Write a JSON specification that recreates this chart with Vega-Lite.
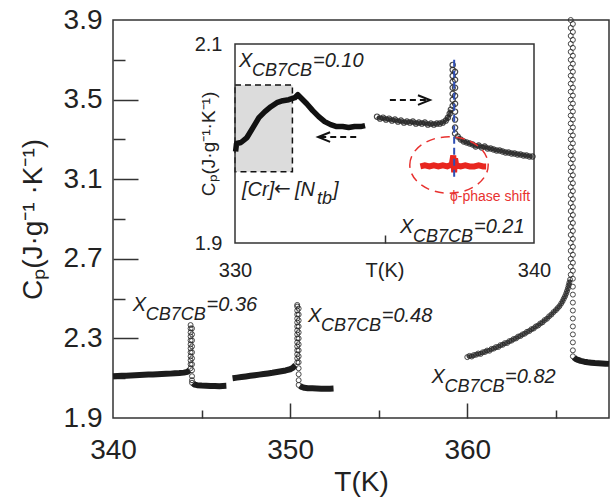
{
  "$schema": "https://vega.github.io/schema/vega-lite/v6.json",
  "width": 496,
  "height": 398,
  "autosize": {"type": "none"},
  "padding": {"left": 113, "top": 20, "right": 1, "bottom": 80},
  "background": "white",
  "config": {
    "font": "Liberation Sans",
    "view": {"stroke": "#333", "strokeWidth": 1.5},
    "axis": {"grid": false, "domain": false, "labelColor": "#222", "titleColor": "#222", "labelFont": "Liberation Sans", "titleFont": "Liberation Sans", "titleFontWeight": "normal", "tickColor": "#333", "tickWidth": 1.5, "labelFlush": false, "labelOverlap": false, "labelBound": false}
  },
  "datasets": {
    "mband": [
      {"s":"a36","T":340.0,"Cp":2.110},{"s":"a36","T":340.25,"Cp":2.111},{"s":"a36","T":340.5,"Cp":2.112},{"s":"a36","T":340.75,"Cp":2.112},{"s":"a36","T":341.0,"Cp":2.114},{"s":"a36","T":341.25,"Cp":2.115},{"s":"a36","T":341.5,"Cp":2.116},{"s":"a36","T":341.75,"Cp":2.117},{"s":"a36","T":342.0,"Cp":2.118},{"s":"a36","T":342.25,"Cp":2.119},{"s":"a36","T":342.5,"Cp":2.120},{"s":"a36","T":342.75,"Cp":2.121},{"s":"a36","T":343.0,"Cp":2.122},{"s":"a36","T":343.25,"Cp":2.123},{"s":"a36","T":343.5,"Cp":2.125},{"s":"a36","T":343.75,"Cp":2.126},{"s":"a36","T":344.0,"Cp":2.128},{"s":"a36","T":344.2,"Cp":2.132},{"s":"a36","T":344.32,"Cp":2.140},
      {"s":"b36","T":344.52,"Cp":2.075},{"s":"b36","T":344.6,"Cp":2.068},{"s":"b36","T":344.75,"Cp":2.065},{"s":"b36","T":345.0,"Cp":2.063},{"s":"b36","T":345.25,"Cp":2.062},{"s":"b36","T":345.5,"Cp":2.061},{"s":"b36","T":345.75,"Cp":2.061},{"s":"b36","T":346.0,"Cp":2.060},{"s":"b36","T":346.2,"Cp":2.061},{"s":"b36","T":346.4,"Cp":2.062},
      {"s":"a48","T":346.75,"Cp":2.100},{"s":"a48","T":347.0,"Cp":2.103},{"s":"a48","T":347.25,"Cp":2.106},{"s":"a48","T":347.5,"Cp":2.109},{"s":"a48","T":347.75,"Cp":2.112},{"s":"a48","T":348.0,"Cp":2.115},{"s":"a48","T":348.25,"Cp":2.118},{"s":"a48","T":348.5,"Cp":2.121},{"s":"a48","T":348.75,"Cp":2.124},{"s":"a48","T":349.0,"Cp":2.127},{"s":"a48","T":349.25,"Cp":2.131},{"s":"a48","T":349.5,"Cp":2.135},{"s":"a48","T":349.75,"Cp":2.139},{"s":"a48","T":350.0,"Cp":2.145},{"s":"a48","T":350.15,"Cp":2.152},{"s":"a48","T":350.3,"Cp":2.165},
      {"s":"b48","T":350.55,"Cp":2.062},{"s":"b48","T":350.65,"Cp":2.056},{"s":"b48","T":350.8,"Cp":2.052},{"s":"b48","T":351.0,"Cp":2.050},{"s":"b48","T":351.25,"Cp":2.049},{"s":"b48","T":351.5,"Cp":2.048},{"s":"b48","T":351.75,"Cp":2.047},{"s":"b48","T":352.0,"Cp":2.047},{"s":"b48","T":352.25,"Cp":2.047},{"s":"b48","T":352.45,"Cp":2.048},
      {"s":"t82","T":366.02,"Cp":2.205},{"s":"t82","T":366.1,"Cp":2.198},{"s":"t82","T":366.25,"Cp":2.192},{"s":"t82","T":366.4,"Cp":2.187},{"s":"t82","T":366.6,"Cp":2.183},{"s":"t82","T":366.8,"Cp":2.180},{"s":"t82","T":367.0,"Cp":2.178},{"s":"t82","T":367.2,"Cp":2.176},{"s":"t82","T":367.4,"Cp":2.175},{"s":"t82","T":367.6,"Cp":2.174},{"s":"t82","T":367.8,"Cp":2.173},{"s":"t82","T":368.0,"Cp":2.172}
    ],
    "mcurve": [
      {"T":360.0,"Cp":2.206},{"T":360.12,"Cp":2.212},{"T":360.25,"Cp":2.209},{"T":360.37,"Cp":2.216},{"T":360.5,"Cp":2.218},{"T":360.62,"Cp":2.224},{"T":360.75,"Cp":2.222},{"T":360.87,"Cp":2.230},{"T":361.0,"Cp":2.232},{"T":361.12,"Cp":2.239},{"T":361.25,"Cp":2.238},{"T":361.37,"Cp":2.247},{"T":361.5,"Cp":2.249},{"T":361.62,"Cp":2.256},{"T":361.75,"Cp":2.257},{"T":361.87,"Cp":2.266},{"T":362.0,"Cp":2.268},{"T":362.12,"Cp":2.276},{"T":362.25,"Cp":2.277},{"T":362.37,"Cp":2.286},{"T":362.5,"Cp":2.289},{"T":362.62,"Cp":2.297},{"T":362.75,"Cp":2.300},{"T":362.87,"Cp":2.309},{"T":363.0,"Cp":2.312},{"T":363.12,"Cp":2.320},{"T":363.25,"Cp":2.324},{"T":363.37,"Cp":2.333},{"T":363.5,"Cp":2.337},{"T":363.62,"Cp":2.346},{"T":363.75,"Cp":2.350},{"T":363.87,"Cp":2.360},{"T":364.0,"Cp":2.365},{"T":364.12,"Cp":2.375},{"T":364.25,"Cp":2.381},{"T":364.37,"Cp":2.392},{"T":364.5,"Cp":2.399},{"T":364.62,"Cp":2.411},{"T":364.75,"Cp":2.420},{"T":364.87,"Cp":2.432},{"T":365.0,"Cp":2.442},{"T":365.1,"Cp":2.452},{"T":365.2,"Cp":2.462},{"T":365.3,"Cp":2.475},{"T":365.38,"Cp":2.487},{"T":365.45,"Cp":2.500},{"T":365.52,"Cp":2.512},{"T":365.58,"Cp":2.525},{"T":365.63,"Cp":2.538},{"T":365.68,"Cp":2.552},{"T":365.72,"Cp":2.566},{"T":365.76,"Cp":2.580},{"T":365.8,"Cp":2.595}
    ],
    "mpts": [
      {"T":344.38,"Cp":2.15},{"T":344.38,"Cp":2.17},{"T":344.38,"Cp":2.19},{"T":344.38,"Cp":2.21},{"T":344.38,"Cp":2.23},{"T":344.38,"Cp":2.25},{"T":344.38,"Cp":2.27},{"T":344.38,"Cp":2.29},{"T":344.38,"Cp":2.31},{"T":344.38,"Cp":2.33},{"T":344.38,"Cp":2.35},{"T":344.38,"Cp":2.367},
      {"T":344.46,"Cp":2.35},{"T":344.46,"Cp":2.32},{"T":344.46,"Cp":2.29},{"T":344.46,"Cp":2.26},{"T":344.46,"Cp":2.23},{"T":344.46,"Cp":2.20},{"T":344.46,"Cp":2.17},{"T":344.46,"Cp":2.14},{"T":344.46,"Cp":2.11},{"T":344.46,"Cp":2.09},{"T":344.46,"Cp":2.077},
      {"T":350.40,"Cp":2.18},{"T":350.40,"Cp":2.20},{"T":350.40,"Cp":2.22},{"T":350.40,"Cp":2.24},{"T":350.40,"Cp":2.26},{"T":350.40,"Cp":2.28},{"T":350.40,"Cp":2.30},{"T":350.40,"Cp":2.32},{"T":350.40,"Cp":2.34},{"T":350.40,"Cp":2.36},{"T":350.40,"Cp":2.38},{"T":350.40,"Cp":2.40},{"T":350.40,"Cp":2.42},{"T":350.40,"Cp":2.44},{"T":350.40,"Cp":2.46},{"T":350.40,"Cp":2.468},
      {"T":350.48,"Cp":2.45},{"T":350.48,"Cp":2.42},{"T":350.48,"Cp":2.39},{"T":350.48,"Cp":2.36},{"T":350.48,"Cp":2.33},{"T":350.48,"Cp":2.30},{"T":350.48,"Cp":2.27},{"T":350.48,"Cp":2.24},{"T":350.48,"Cp":2.21},{"T":350.48,"Cp":2.18},{"T":350.48,"Cp":2.15},{"T":350.48,"Cp":2.12},{"T":350.48,"Cp":2.09},{"T":350.48,"Cp":2.066},
      {"T":360.0,"Cp":2.206},{"T":360.12,"Cp":2.212},{"T":360.25,"Cp":2.209},{"T":360.37,"Cp":2.216},{"T":360.5,"Cp":2.218},{"T":360.62,"Cp":2.224},{"T":360.75,"Cp":2.222},{"T":360.87,"Cp":2.230},{"T":361.0,"Cp":2.232},{"T":361.12,"Cp":2.239},{"T":361.25,"Cp":2.238},{"T":361.37,"Cp":2.247},{"T":361.5,"Cp":2.249},{"T":361.62,"Cp":2.256},{"T":361.75,"Cp":2.257},{"T":361.87,"Cp":2.266},{"T":362.0,"Cp":2.268},{"T":362.12,"Cp":2.276},{"T":362.25,"Cp":2.277},{"T":362.37,"Cp":2.286},{"T":362.5,"Cp":2.289},{"T":362.62,"Cp":2.297},{"T":362.75,"Cp":2.300},{"T":362.87,"Cp":2.309},{"T":363.0,"Cp":2.312},{"T":363.12,"Cp":2.320},{"T":363.25,"Cp":2.324},{"T":363.37,"Cp":2.333},{"T":363.5,"Cp":2.337},{"T":363.62,"Cp":2.346},{"T":363.75,"Cp":2.350},{"T":363.87,"Cp":2.360},{"T":364.0,"Cp":2.365},{"T":364.12,"Cp":2.375},{"T":364.25,"Cp":2.381},{"T":364.37,"Cp":2.392},{"T":364.5,"Cp":2.399},{"T":364.62,"Cp":2.411},{"T":364.75,"Cp":2.420},{"T":364.87,"Cp":2.432},{"T":365.0,"Cp":2.442},{"T":365.1,"Cp":2.452},{"T":365.2,"Cp":2.462},{"T":365.3,"Cp":2.475},{"T":365.38,"Cp":2.487},{"T":365.45,"Cp":2.500},{"T":365.52,"Cp":2.512},{"T":365.58,"Cp":2.525},{"T":365.63,"Cp":2.538},{"T":365.68,"Cp":2.552},{"T":365.72,"Cp":2.566},{"T":365.76,"Cp":2.580},{"T":365.8,"Cp":2.595},
      {"T":365.84,"Cp":2.62},{"T":365.84,"Cp":2.66},{"T":365.84,"Cp":2.70},{"T":365.84,"Cp":2.74},{"T":365.84,"Cp":2.78},{"T":365.84,"Cp":2.82},{"T":365.84,"Cp":2.86},{"T":365.84,"Cp":2.90},{"T":365.84,"Cp":2.94},{"T":365.84,"Cp":2.98},{"T":365.84,"Cp":3.02},{"T":365.84,"Cp":3.06},{"T":365.84,"Cp":3.10},{"T":365.84,"Cp":3.14},{"T":365.84,"Cp":3.18},{"T":365.84,"Cp":3.22},{"T":365.84,"Cp":3.26},{"T":365.84,"Cp":3.30},{"T":365.84,"Cp":3.34},{"T":365.84,"Cp":3.38},{"T":365.84,"Cp":3.42},{"T":365.84,"Cp":3.46},{"T":365.84,"Cp":3.50},{"T":365.84,"Cp":3.54},{"T":365.84,"Cp":3.58},{"T":365.84,"Cp":3.62},{"T":365.84,"Cp":3.66},{"T":365.84,"Cp":3.70},{"T":365.84,"Cp":3.74},{"T":365.84,"Cp":3.78},{"T":365.84,"Cp":3.82},{"T":365.84,"Cp":3.86},{"T":365.84,"Cp":3.90},
      {"T":365.96,"Cp":3.88},{"T":365.96,"Cp":3.84},{"T":365.96,"Cp":3.80},{"T":365.96,"Cp":3.76},{"T":365.96,"Cp":3.72},{"T":365.96,"Cp":3.68},{"T":365.96,"Cp":3.64},{"T":365.96,"Cp":3.60},{"T":365.96,"Cp":3.56},{"T":365.96,"Cp":3.52},{"T":365.96,"Cp":3.48},{"T":365.96,"Cp":3.44},{"T":365.96,"Cp":3.40},{"T":365.96,"Cp":3.36},{"T":365.96,"Cp":3.32},{"T":365.96,"Cp":3.28},{"T":365.96,"Cp":3.24},{"T":365.96,"Cp":3.20},{"T":365.96,"Cp":3.16},{"T":365.96,"Cp":3.12},{"T":365.96,"Cp":3.08},{"T":365.96,"Cp":3.04},{"T":365.96,"Cp":3.00},{"T":365.96,"Cp":2.96},{"T":365.96,"Cp":2.92},{"T":365.96,"Cp":2.88},{"T":365.96,"Cp":2.84},{"T":365.96,"Cp":2.80},{"T":365.96,"Cp":2.76},{"T":365.96,"Cp":2.72},{"T":365.96,"Cp":2.68},{"T":365.96,"Cp":2.64},{"T":365.96,"Cp":2.60},{"T":365.96,"Cp":2.56},{"T":365.96,"Cp":2.52},{"T":365.96,"Cp":2.48},{"T":365.96,"Cp":2.44},{"T":365.96,"Cp":2.40},{"T":365.96,"Cp":2.36},{"T":365.96,"Cp":2.32},{"T":365.96,"Cp":2.28},{"T":365.96,"Cp":2.24},{"T":365.96,"Cp":2.21}
    ],
    "mtxt": [
      {"kind":"big","T":341.12,"Cp":2.4377,"txt":"X"},{"kind":"sub","T":341.85,"Cp":2.3925,"txt":"CB7CB"},{"kind":"big","T":345.28,"Cp":2.4377,"txt":"=0.36"},
      {"kind":"big","T":351.01,"Cp":2.3824,"txt":"X"},{"kind":"sub","T":351.74,"Cp":2.3372,"txt":"CB7CB"},{"kind":"big","T":355.17,"Cp":2.3824,"txt":"=0.48"},
      {"kind":"big","T":357.98,"Cp":2.0759,"txt":"X"},{"kind":"sub","T":358.71,"Cp":2.0307,"txt":"CB7CB"},{"kind":"big","T":362.13,"Cp":2.0759,"txt":"=0.82"}
    ],
    "i10": [
      {"T":330.02,"Cp":1.992},{"T":330.05,"Cp":2.000},{"T":330.2,"Cp":2.001},{"T":330.4,"Cp":2.006},{"T":330.6,"Cp":2.016},{"T":330.8,"Cp":2.026},{"T":331.0,"Cp":2.032},{"T":331.2,"Cp":2.037},{"T":331.4,"Cp":2.041},{"T":331.6,"Cp":2.043},{"T":331.8,"Cp":2.044},{"T":332.0,"Cp":2.046},{"T":332.1,"Cp":2.049},{"T":332.2,"Cp":2.046},{"T":332.4,"Cp":2.040},{"T":332.6,"Cp":2.033},{"T":332.8,"Cp":2.027},{"T":333.0,"Cp":2.022},{"T":333.2,"Cp":2.019},{"T":333.4,"Cp":2.017},{"T":333.6,"Cp":2.017},{"T":333.8,"Cp":2.016},{"T":334.0,"Cp":2.017},{"T":334.2,"Cp":2.017},{"T":334.35,"Cp":2.018}
    ],
    "i21": [
      {"s":"l","T":334.75,"Cp":2.027},{"s":"l","T":334.85,"Cp":2.025},{"s":"l","T":334.95,"Cp":2.026},{"s":"l","T":335.05,"Cp":2.024},{"s":"l","T":335.15,"Cp":2.025},{"s":"l","T":335.25,"Cp":2.023},{"s":"l","T":335.35,"Cp":2.024},{"s":"l","T":335.45,"Cp":2.022},{"s":"l","T":335.55,"Cp":2.023},{"s":"l","T":335.65,"Cp":2.021},{"s":"l","T":335.75,"Cp":2.022},{"s":"l","T":335.85,"Cp":2.021},{"s":"l","T":335.95,"Cp":2.022},{"s":"l","T":336.05,"Cp":2.020},{"s":"l","T":336.15,"Cp":2.021},{"s":"l","T":336.25,"Cp":2.020},{"s":"l","T":336.35,"Cp":2.021},{"s":"l","T":336.45,"Cp":2.019},{"s":"l","T":336.55,"Cp":2.020},{"s":"l","T":336.65,"Cp":2.019},{"s":"l","T":336.75,"Cp":2.020},{"s":"l","T":336.85,"Cp":2.020},{"s":"l","T":336.95,"Cp":2.021},{"s":"l","T":337.05,"Cp":2.023},{"s":"l","T":337.12,"Cp":2.026},{"s":"l","T":337.18,"Cp":2.030},{"s":"l","T":337.22,"Cp":2.034},
      {"s":"p","T":337.28,"Cp":2.038},{"s":"p","T":337.28,"Cp":2.044},{"s":"p","T":337.28,"Cp":2.050},{"s":"p","T":337.28,"Cp":2.056},{"s":"p","T":337.28,"Cp":2.062},{"s":"p","T":337.28,"Cp":2.068},{"s":"p","T":337.28,"Cp":2.074},{"s":"p","T":337.28,"Cp":2.079},
      {"s":"p","T":337.36,"Cp":2.072},{"s":"p","T":337.36,"Cp":2.064},{"s":"p","T":337.36,"Cp":2.056},{"s":"p","T":337.36,"Cp":2.048},{"s":"p","T":337.36,"Cp":2.040},{"s":"p","T":337.36,"Cp":2.032},{"s":"p","T":337.36,"Cp":2.024},{"s":"p","T":337.36,"Cp":2.016},{"s":"p","T":337.36,"Cp":2.010},
      {"s":"r","T":337.45,"Cp":2.007},{"s":"r","T":337.55,"Cp":2.004},{"s":"r","T":337.65,"Cp":2.002},{"s":"r","T":337.75,"Cp":2.001},{"s":"r","T":337.85,"Cp":2.000},{"s":"r","T":337.95,"Cp":1.999},{"s":"r","T":338.05,"Cp":1.997},{"s":"r","T":338.15,"Cp":1.998},{"s":"r","T":338.25,"Cp":1.996},{"s":"r","T":338.35,"Cp":1.997},{"s":"r","T":338.45,"Cp":1.995},{"s":"r","T":338.55,"Cp":1.995},{"s":"r","T":338.65,"Cp":1.994},{"s":"r","T":338.75,"Cp":1.993},{"s":"r","T":338.85,"Cp":1.993},{"s":"r","T":338.95,"Cp":1.992},{"s":"r","T":339.05,"Cp":1.991},{"s":"r","T":339.15,"Cp":1.991},{"s":"r","T":339.25,"Cp":1.990},{"s":"r","T":339.35,"Cp":1.990},{"s":"r","T":339.45,"Cp":1.989},{"s":"r","T":339.55,"Cp":1.989},{"s":"r","T":339.65,"Cp":1.988},{"s":"r","T":339.75,"Cp":1.988},{"s":"r","T":339.85,"Cp":1.987},{"s":"r","T":339.95,"Cp":1.987}
    ],
    "ired": [
      {"T":336.2,"Cp":1.977},{"T":336.35,"Cp":1.978},{"T":336.5,"Cp":1.977},{"T":336.65,"Cp":1.978},{"T":336.8,"Cp":1.977},{"T":336.95,"Cp":1.978},{"T":337.1,"Cp":1.977},{"T":337.25,"Cp":1.979},{"T":337.3,"Cp":1.988},{"T":337.33,"Cp":1.971},{"T":337.36,"Cp":1.985},{"T":337.4,"Cp":1.978},{"T":337.55,"Cp":1.977},{"T":337.7,"Cp":1.978},{"T":337.85,"Cp":1.977},{"T":338.0,"Cp":1.977},{"T":338.15,"Cp":1.978},{"T":338.3,"Cp":1.977},{"T":338.4,"Cp":1.977}
    ],
    "itxt": [
      {"kind":"big","T":330.134,"Cp":2.0769,"txt":"X"},{"kind":"sub","T":330.569,"Cp":2.0678,"txt":"CB7CB"},{"kind":"big","T":332.609,"Cp":2.0769,"txt":"=0.10"},
      {"kind":"big","T":335.518,"Cp":1.9101,"txt":"X"},{"kind":"sub","T":335.953,"Cp":1.9010,"txt":"CB7CB"},{"kind":"big","T":337.993,"Cp":1.9101,"txt":"=0.21"},
      {"kind":"big","T":330.234,"Cp":1.9472,"txt":"[Cr]"},{"kind":"big","T":332.007,"Cp":1.9472,"txt":"[N"},{"kind":"sub","T":332.742,"Cp":1.9392,"txt":"tb"},{"kind":"big","T":333.278,"Cp":1.9472,"txt":"]"}
    ],
    "iarrow_txt": [{"T":331.304,"Cp":1.9482,"txt":"←"}],
    "ired_txt": [{"T":337.191,"Cp":1.9422,"txt":"ϕ-phase shift"}],
    "ibox": [{"T1":330.0,"T2":331.92,"C1":1.9717,"C2":2.0588}],
    "iframe": [{"T1":330,"T2":340,"C1":1.9,"C2":2.1}],
    "iblue": [{"T":337.33,"C1":1.9667,"C2":2.085}],
    "iell": [{"T":337.157,"Cp":1.9784}],
    "ishaft": [{"T1":332.85,"T2":334.18,"Cp":2.0065},{"T1":335.18,"T2":336.45,"Cp":2.0437}],
    "ihead": [{"T":332.98,"Cp":2.0065,"dir":"left"},{"T":336.32,"Cp":2.0437,"dir":"right"}]
  },
  "resolve": {"scale": {"x": "independent", "y": "independent", "shape": "independent"}, "axis": {"x": "independent", "y": "independent"}},
  "layer": [
    {
      "data": {"name": "mband"},
      "mark": {"type": "line", "strokeWidth": 6, "color": "#1c1c1c", "strokeJoin": "round"},
      "encoding": {
        "x": {"field": "T", "type": "quantitative", "scale": {"domain": [340, 368]}, "axis": {"orient": "bottom", "values": [350, 360], "tickSize": -15, "labels": false, "domain": false, "title": null}},
        "y": {"field": "Cp", "type": "quantitative", "scale": {"domain": [1.9, 3.9]}, "axis": {"orient": "left", "values": [2.3, 2.7, 3.1, 3.5], "tickSize": -25, "labels": false, "domain": false, "title": null}},
        "detail": {"field": "s"}
      }
    },
    {
      "data": {"name": "mcurve"},
      "mark": {"type": "line", "strokeWidth": 3.5, "color": "#555", "strokeJoin": "round"},
      "encoding": {
        "x": {"field": "T", "type": "quantitative", "scale": {"domain": [340, 368]}, "axis": null},
        "y": {"field": "Cp", "type": "quantitative", "scale": {"domain": [1.9, 3.9]}, "axis": null}
      }
    },
    {
      "data": {"name": "mpts"},
      "mark": {"type": "point", "shape": "circle", "filled": false, "size": 25, "stroke": "#2a2a2a", "strokeWidth": 1, "opacity": 0.85},
      "encoding": {
        "x": {"field": "T", "type": "quantitative", "scale": {"domain": [340, 368]}, "axis": {"orient": "bottom", "values": [340, 350, 360], "ticks": false, "labelFontSize": 28, "labelPadding": 18, "title": "T(K)", "titleFontSize": 28, "titlePadding": 4}},
        "y": {"field": "Cp", "type": "quantitative", "scale": {"domain": [1.9, 3.9]}, "axis": {"orient": "left", "values": [1.9, 2.3, 2.7, 3.1, 3.5, 3.9], "ticks": false, "labelFontSize": 28, "labelPadding": 11, "title": "Cₚ(J·g⁻¹ ·K⁻¹)", "titleFontSize": 28, "titlePadding": 16}}
      }
    },
    {
      "data": {"name": "mtxt"},
      "transform": [{"filter": "datum.kind == 'big'"}],
      "mark": {"type": "text", "align": "left", "baseline": "alphabetic", "fontSize": 20, "fontStyle": "italic", "font": "Liberation Sans", "color": "#222"},
      "encoding": {
        "x": {"field": "T", "type": "quantitative", "scale": {"domain": [340, 368]}, "axis": {"orient": "bottom", "values": [345, 355, 365], "tickSize": -8, "labels": false, "domain": false, "title": null}},
        "y": {"field": "Cp", "type": "quantitative", "scale": {"domain": [1.9, 3.9]}, "axis": {"orient": "left", "values": [2.1, 2.5, 2.9, 3.3, 3.7], "tickSize": -12, "labels": false, "domain": false, "title": null}},
        "text": {"field": "txt"}
      }
    },
    {
      "data": {"name": "mtxt"},
      "transform": [{"filter": "datum.kind == 'sub'"}],
      "mark": {"type": "text", "align": "left", "baseline": "alphabetic", "fontSize": 18, "fontStyle": "italic", "font": "Liberation Sans", "color": "#222"},
      "encoding": {
        "x": {"field": "T", "type": "quantitative", "scale": {"domain": [340, 368]}, "axis": null},
        "y": {"field": "Cp", "type": "quantitative", "scale": {"domain": [1.9, 3.9]}, "axis": null},
        "text": {"field": "txt"}
      }
    },
    {
      "data": {"name": "ibox"},
      "mark": {"type": "rect", "fill": "#dcdcdc", "stroke": "#111", "strokeWidth": 1.5, "strokeDash": [6, 4]},
      "encoding": {
        "x": {"field": "T1", "type": "quantitative", "scale": {"domain": [330, 340], "range": [122, 421]}, "axis": {"orient": "bottom", "offset": -175, "values": [330, 335, 340], "labelExpr": "datum.value == 335 ? 'T(K)' : datum.label", "ticks": false, "domain": false, "labelFontSize": 20, "labelPadding": 17, "title": null}},
        "x2": {"field": "T2"},
        "y": {"field": "C1", "type": "quantitative", "scale": {"domain": [1.9, 2.1], "range": [223, 24]}, "axis": {"orient": "left", "offset": -122, "values": [1.9, 2.1], "ticks": false, "domain": false, "labelFontSize": 20, "labelPadding": 13, "title": "Cₚ(J·g⁻¹·K⁻¹)", "titleFontSize": 19, "titlePadding": -24}},
        "y2": {"field": "C2"}
      }
    },
    {
      "data": {"name": "iframe"},
      "mark": {"type": "rect", "fillOpacity": 0, "stroke": "#333", "strokeWidth": 1.5},
      "encoding": {
        "x": {"field": "T1", "type": "quantitative", "scale": {"domain": [330, 340], "range": [122, 421]}, "axis": {"orient": "bottom", "offset": -175, "values": [335], "tickSize": -8, "labels": false, "domain": false, "title": null}},
        "x2": {"field": "T2"},
        "y": {"field": "C1", "type": "quantitative", "scale": {"domain": [1.9, 2.1], "range": [223, 24]}, "axis": null},
        "y2": {"field": "C2"}
      }
    },
    {
      "data": {"name": "i10"},
      "mark": {"type": "line", "strokeWidth": 5.5, "color": "#111", "strokeJoin": "round"},
      "encoding": {
        "x": {"field": "T", "type": "quantitative", "scale": {"domain": [330, 340], "range": [122, 421]}, "axis": null},
        "y": {"field": "Cp", "type": "quantitative", "scale": {"domain": [1.9, 2.1], "range": [223, 24]}, "axis": null}
      }
    },
    {
      "data": {"name": "i21"},
      "transform": [{"filter": "datum.s != 'p'"}],
      "mark": {"type": "line", "strokeWidth": 3.5, "color": "#444", "strokeJoin": "round"},
      "encoding": {
        "x": {"field": "T", "type": "quantitative", "scale": {"domain": [330, 340], "range": [122, 421]}, "axis": null},
        "y": {"field": "Cp", "type": "quantitative", "scale": {"domain": [1.9, 2.1], "range": [223, 24]}, "axis": null},
        "detail": {"field": "s"}
      }
    },
    {
      "data": {"name": "i21"},
      "mark": {"type": "point", "shape": "circle", "filled": false, "size": 28, "stroke": "#2a2a2a", "strokeWidth": 1.2, "opacity": 0.85},
      "encoding": {
        "x": {"field": "T", "type": "quantitative", "scale": {"domain": [330, 340], "range": [122, 421]}, "axis": null},
        "y": {"field": "Cp", "type": "quantitative", "scale": {"domain": [1.9, 2.1], "range": [223, 24]}, "axis": null}
      }
    },
    {
      "data": {"name": "ired"},
      "mark": {"type": "line", "strokeWidth": 6, "color": "#e8261f"},
      "encoding": {
        "x": {"field": "T", "type": "quantitative", "scale": {"domain": [330, 340], "range": [122, 421]}, "axis": null},
        "y": {"field": "Cp", "type": "quantitative", "scale": {"domain": [1.9, 2.1], "range": [223, 24]}, "axis": null}
      }
    },
    {
      "data": {"name": "iblue"},
      "mark": {"type": "rule", "color": "#2f4fb5", "strokeWidth": 2, "strokeDash": [7, 4]},
      "encoding": {
        "x": {"field": "T", "type": "quantitative", "scale": {"domain": [330, 340], "range": [122, 421]}, "axis": null},
        "y": {"field": "C1", "type": "quantitative", "scale": {"domain": [1.9, 2.1], "range": [223, 24]}, "axis": null},
        "y2": {"field": "C2"}
      }
    },
    {
      "data": {"name": "iell"},
      "mark": {"type": "point", "shape": "M -1 0 A 1 0.72 0 1 1 1 0 A 1 0.72 0 1 1 -1 0 Z", "filled": false, "size": 6147, "stroke": "#e8312f", "strokeWidth": 1.5, "strokeDash": [9, 6], "opacity": 1},
      "encoding": {
        "x": {"field": "T", "type": "quantitative", "scale": {"domain": [330, 340], "range": [122, 421]}, "axis": null},
        "y": {"field": "Cp", "type": "quantitative", "scale": {"domain": [1.9, 2.1], "range": [223, 24]}, "axis": null}
      }
    },
    {
      "data": {"name": "ishaft"},
      "mark": {"type": "rule", "color": "#111", "strokeWidth": 2, "strokeDash": [6, 4]},
      "encoding": {
        "x": {"field": "T1", "type": "quantitative", "scale": {"domain": [330, 340], "range": [122, 421]}, "axis": null},
        "x2": {"field": "T2"},
        "y": {"field": "Cp", "type": "quantitative", "scale": {"domain": [1.9, 2.1], "range": [223, 24]}, "axis": null}
      }
    },
    {
      "data": {"name": "ihead"},
      "mark": {"type": "point", "filled": false, "size": 144, "stroke": "#111", "strokeWidth": 2, "opacity": 1},
      "encoding": {
        "x": {"field": "T", "type": "quantitative", "scale": {"domain": [330, 340], "range": [122, 421]}, "axis": null},
        "y": {"field": "Cp", "type": "quantitative", "scale": {"domain": [1.9, 2.1], "range": [223, 24]}, "axis": null},
        "shape": {"field": "dir", "type": "nominal", "scale": {"domain": ["left", "right"], "range": ["M 1 -0.8 L -1 0 L 1 0.8", "M -1 -0.8 L 1 0 L -1 0.8"]}, "legend": null}
      }
    },
    {
      "data": {"name": "itxt"},
      "transform": [{"filter": "datum.kind == 'big'"}],
      "mark": {"type": "text", "align": "left", "baseline": "alphabetic", "fontSize": 20, "fontStyle": "italic", "font": "Liberation Sans", "color": "#222"},
      "encoding": {
        "x": {"field": "T", "type": "quantitative", "scale": {"domain": [330, 340], "range": [122, 421]}, "axis": null},
        "y": {"field": "Cp", "type": "quantitative", "scale": {"domain": [1.9, 2.1], "range": [223, 24]}, "axis": null},
        "text": {"field": "txt"}
      }
    },
    {
      "data": {"name": "iarrow_txt"},
      "mark": {"type": "text", "align": "left", "baseline": "alphabetic", "fontSize": 20, "font": "DejaVu Sans", "color": "#222"},
      "encoding": {
        "x": {"field": "T", "type": "quantitative", "scale": {"domain": [330, 340], "range": [122, 421]}, "axis": null},
        "y": {"field": "Cp", "type": "quantitative", "scale": {"domain": [1.9, 2.1], "range": [223, 24]}, "axis": null},
        "text": {"field": "txt"}
      }
    },
    {
      "data": {"name": "itxt"},
      "transform": [{"filter": "datum.kind == 'sub'"}],
      "mark": {"type": "text", "align": "left", "baseline": "alphabetic", "fontSize": 18, "fontStyle": "italic", "font": "Liberation Sans", "color": "#222"},
      "encoding": {
        "x": {"field": "T", "type": "quantitative", "scale": {"domain": [330, 340], "range": [122, 421]}, "axis": null},
        "y": {"field": "Cp", "type": "quantitative", "scale": {"domain": [1.9, 2.1], "range": [223, 24]}, "axis": null},
        "text": {"field": "txt"}
      }
    },
    {
      "data": {"name": "ired_txt"},
      "mark": {"type": "text", "align": "left", "baseline": "alphabetic", "fontSize": 14, "font": "Liberation Sans", "color": "#e8312f"},
      "encoding": {
        "x": {"field": "T", "type": "quantitative", "scale": {"domain": [330, 340], "range": [122, 421]}, "axis": null},
        "y": {"field": "Cp", "type": "quantitative", "scale": {"domain": [1.9, 2.1], "range": [223, 24]}, "axis": null},
        "text": {"field": "txt"}
      }
    }
  ]
}
